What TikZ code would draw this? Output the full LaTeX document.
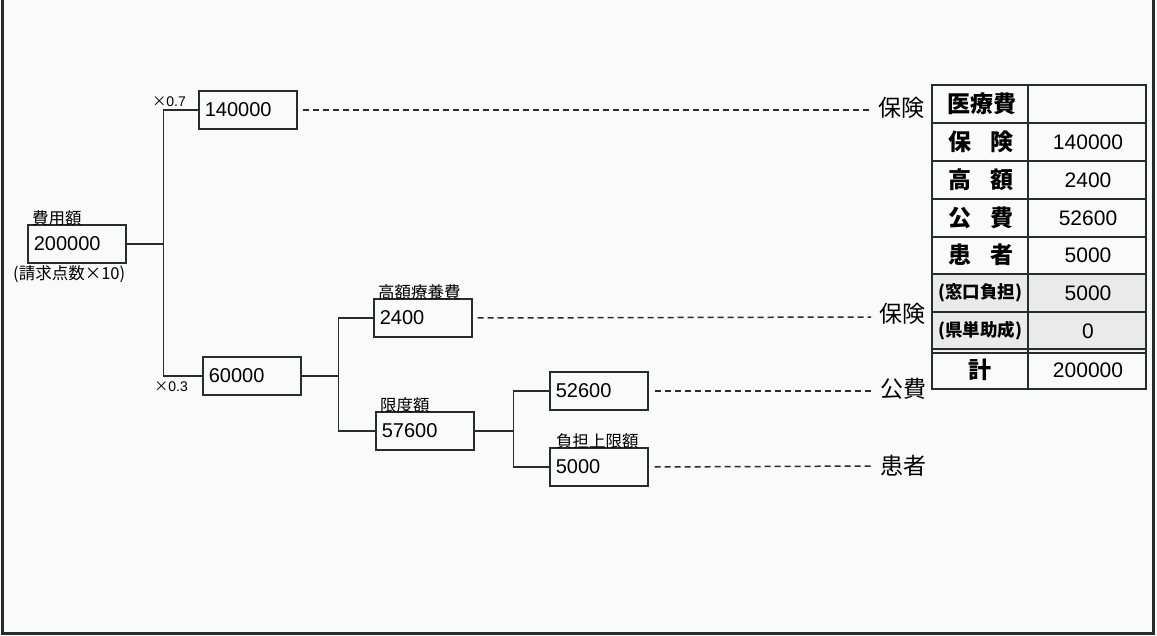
\documentclass[tikz,border=0pt]{standalone}
\usepackage{fontspec}
\setmainfont{Liberation Sans}
\newfontfamily\jp{Noto Sans CJK JP}
\usepackage{tikz}
\usetikzlibrary{positioning,calc}
\definecolor{inkgray}{RGB}{40,44,44}
\definecolor{paper}{RGB}{250,250,250}
\definecolor{cellgray}{RGB}{234,234,234}

\tikzset{
  valbox/.style={draw=inkgray, line width=1.6pt, anchor=west, minimum height=38pt,
    text width=86pt, inner xsep=6pt, align=left, font=\fontsize{20}{22}\selectfont},
  tag/.style={font=\jp\fontsize{16.5}{18}\selectfont, inner sep=0pt},
  rate/.style={font=\fontsize{14}{16}\selectfont, inner sep=0pt},
  payer/.style={font=\jp\fontsize{23}{25}\selectfont, anchor=west, inner sep=0pt},
  tree/.style={inkgray, line width=1.6pt},
  guide/.style={inkgray, line width=1.5pt, dash pattern=on 6pt off 4pt},
  cellj/.style={font=\jp\bfseries\fontsize{23}{25}\selectfont, inner sep=0pt},
  cellk/.style={font=\jp\bfseries\fontsize{17.5}{19}\selectfont, inner sep=0pt},
  celln/.style={font=\fontsize{21}{23}\selectfont, inner sep=0pt},
}

\begin{document}
\begin{tikzpicture}[x=1pt, y=-1pt]

\useasboundingbox[fill=paper] (0,0) rectangle (1157,636);

% frame
\draw[inkgray, line width=3pt] (2,0) -- (2,633) -- (1153,633) -- (1153,0);

% amount boxes
\node[valbox] (fee)  at (27,244)  {200000};
\node[valbox] (ins)  at (198,110) {140000};
\node[valbox] (rest) at (202,376) {60000};
\node[valbox] (high) at (373,318) {2400};
\node[valbox] (lim)  at (375,431) {57600};
\node[valbox] (pub)  at (549,391) {52600};
\node[valbox] (pat)  at (549,467) {5000};

% small labels
\node[tag, anchor=south west] (feelbl) at ($(fee.north west)+(5,2)$) {費用額};
\node[tag, anchor=north west] (feenote) at (13,265) {(請求点数×10)};
\node[tag, anchor=south west] (highlbl) at ($(high.north west)+(5,2)$) {高額療養費};
\node[tag, anchor=south west] (limlbl) at ($(lim.north west)+(5,2)$) {限度額};
\node[tag, anchor=south west] (patlbl) at ($(pat.north west)+(7,2)$) {負担上限額};
\node[rate, anchor=east] (r07) at (186,102) {{\jp ×}0.7};
\node[rate, anchor=east] (r03) at (188,387) {{\jp ×}0.3};

% branches
\draw[tree] (fee.east) -- ++(37,0) coordinate (j1);
\draw[tree] (ins.west) -| (j1) |- (rest.west);
\draw[tree] (rest.east) -- ++(37,0) coordinate (j2);
\draw[tree] (high.west) -| (j2) |- (lim.west);
\draw[tree] (lim.east) -- ++(39,0) coordinate (j3);
\draw[tree] (pub.west) -| (j3) |- (pat.west);

% payers
\node[payer] (p1) at (878,108) {保険};
\node[payer] (p2) at (879,314) {保険};
\node[payer] (p3) at (880,389) {公費};
\node[payer] (p4) at (880,466) {患者};

\draw[guide] ($(ins.east)+(5,0)$) -- ($(p1.west)+(-8,2)$);
\draw[guide] ($(high.east)+(5,0)$) -- ($(p2.west)+(-8,3)$);
\draw[guide] ($(pub.east)+(6,0)$) -- ($(p3.west)+(-8,2)$);
\draw[guide] ($(pat.east)+(6,0)$) -- ($(p4.west)+(-8,0)$);

% table
\fill[cellgray] (932,274) rectangle (1146,351);

\node[cellj] (hd)  at (982,104) {医療費};
\node[cellj] (c1)  at (981,142) {保\hspace{0.8em}険};
\node[celln] (v1)  at (1088,142) {140000};
\node[cellj] (c2)  at (981,180) {高\hspace{0.8em}額};
\node[celln] (v2)  at (1088,180) {2400};
\node[cellj] (c3)  at (981,218) {公\hspace{0.8em}費};
\node[celln] (v3)  at (1088,218) {52600};
\node[cellj] (c4)  at (981,255) {患\hspace{0.8em}者};
\node[celln] (v4)  at (1088,255) {5000};
\node[cellk] (c5)  at (980,293) {(窓口負担)};
\node[celln] (v5)  at (1088,293) {5000};
\node[cellk] (c6)  at (980,331) {(県単助成)};
\node[celln] (v6)  at (1088,331) {0};
\node[cellj] (c7)  at (980,370) {計};
\node[celln] (v7)  at (1088,370) {200000};

\draw[inkgray, line width=1.4pt] (1028,85) -- (1028,389);
\draw[inkgray, line width=1.4pt] (932,123) -- (1146,123);
\draw[inkgray, line width=1.4pt] (932,161) -- (1146,161);
\draw[inkgray, line width=1.4pt] (932,199) -- (1146,199);
\draw[inkgray, line width=1.4pt] (932,237) -- (1146,237);
\draw[inkgray, line width=1.4pt] (932,274) -- (1146,274);
\draw[inkgray, line width=1.4pt] (932,312) -- (1146,312);
\draw[inkgray, line width=1.4pt] (932,349) -- (1146,349);
\draw[inkgray, line width=1.4pt] (932,353) -- (1146,353);
\draw[inkgray, line width=2.2pt] (932,85) rectangle (1146,389);

\end{tikzpicture}
\end{document}
